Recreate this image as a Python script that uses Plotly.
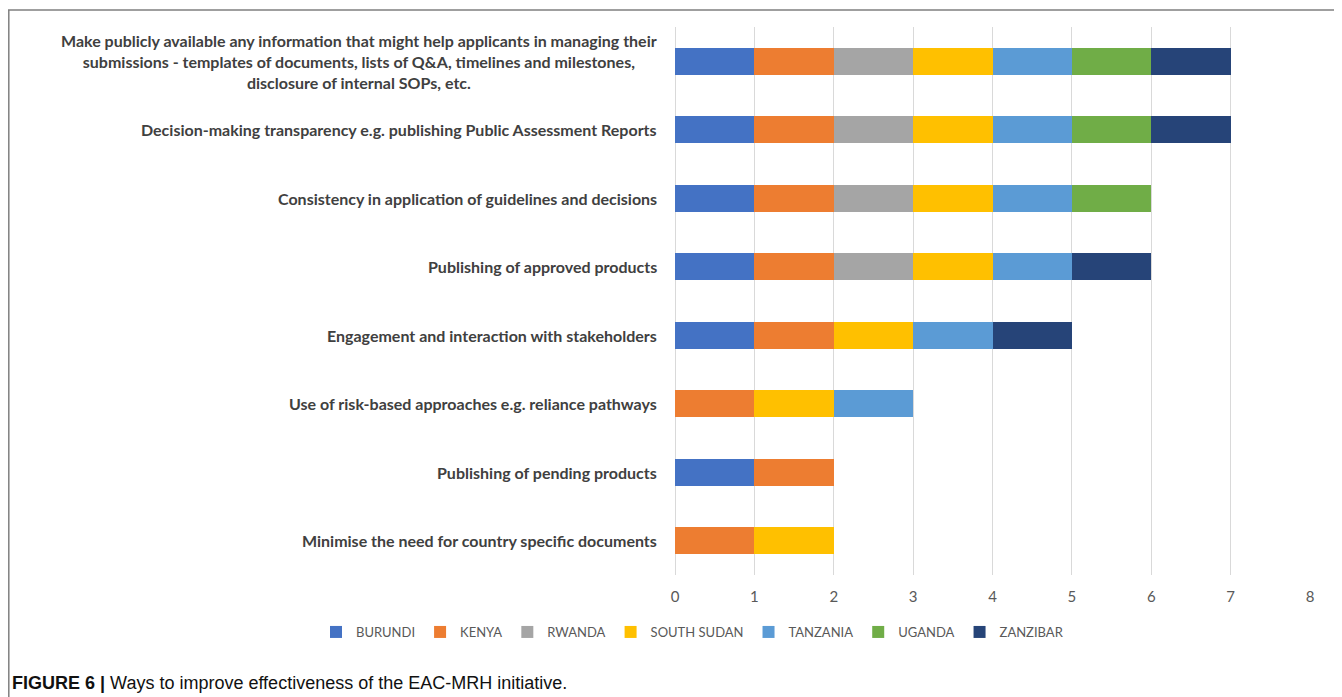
import plotly.graph_objects as go

categories = [
    "Make publicly available any information that might help applicants in managing their<br>submissions - templates of documents, lists of Q&A, timelines and milestones,<br>disclosure of internal SOPs, etc.",
    "Decision-making transparency e.g. publishing Public Assessment Reports",
    "Consistency in application of guidelines and decisions",
    "Publishing of approved products",
    "Engagement and interaction with stakeholders",
    "Use of risk-based approaches e.g. reliance pathways",
    "Publishing of pending products",
    "Minimise the need for country specific documents",
]
countries = ["BURUNDI", "KENYA", "RWANDA", "SOUTH SUDAN", "TANZANIA", "UGANDA", "ZANZIBAR"]
burundi     = [1, 1, 1, 1, 1, 0, 1, 0]
kenya       = [1, 1, 1, 1, 1, 1, 1, 1]
rwanda      = [1, 1, 1, 1, 0, 0, 0, 0]
south_sudan = [1, 1, 1, 1, 1, 1, 0, 1]
tanzania    = [1, 1, 1, 1, 1, 1, 0, 0]
uganda      = [1, 1, 1, 0, 0, 0, 0, 0]
zanzibar    = [1, 1, 0, 1, 1, 0, 0, 0]
series = [burundi, kenya, rwanda, south_sudan, tanzania, uganda, zanzibar]
colors = ["#4472C4", "#ED7D31", "#A5A5A5", "#FFC000", "#5B9BD5", "#70AD47", "#264478"]
x_ticks = [0, 1, 2, 3, 4, 5, 6, 7, 8]

ypos = list(range(len(categories)))

fig = go.Figure()
for name, vals, col in zip(countries, series, colors):
    fig.add_trace(go.Bar(
        y=ypos, x=vals, name=name, orientation="h",
        marker=dict(color=col, line=dict(width=0)),
    ))

# page has an 8px body margin; figure coordinates = page - 8
OFF = 8
W, H = 1342 - OFF, 697 - OFF
L, R, T, B = 675 - OFF, 32, 27 - OFF, 697 - 575
pw, ph = W - L - R, H - T - B


def px_x(px):
    return (px - OFF - L) / pw


def px_y(py):
    return ((H - B) - (py - OFF)) / ph


FONT = "Lato, Carlito, sans-serif"

fig.update_layout(
    width=W, height=H,
    barmode="stack", bargap=0.6,
    margin=dict(l=L, r=R, t=T, b=B),
    plot_bgcolor="white", paper_bgcolor="white",
    xaxis=dict(range=[0, 8], tickvals=x_ticks, showgrid=True, gridcolor="#D9D9D9", gridwidth=1,
               zeroline=True, zerolinecolor="#D9D9D9", zerolinewidth=1, showline=False,
               tickfont=dict(family=FONT, size=15, color="#595959"),
               ticks="", ticklabelstandoff=11),
    yaxis=dict(range=[len(categories) - 0.5, -0.5], tickvals=ypos, showticklabels=False,
               showgrid=False, zeroline=False, showline=False, ticks=""),
    legend=dict(orientation="h", x=px_x(316), xanchor="left", y=px_y(632), yanchor="middle",
                font=dict(family=FONT, size=13, color="#595959"),
                traceorder="normal", itemwidth=30),
    showlegend=True,
)

for i, c in enumerate(categories):
    fig.add_annotation(x=0, xref="paper", y=i, yref="y", xanchor="right", xshift=-16,
                       text="<b>" + c + "</b>", showarrow=False, align="center",
                       font=dict(family=FONT, size=16, color="#404040"))

# frame
fig.add_shape(type="line", xref="paper", yref="paper", x0=px_x(8), x1=px_x(1342), y0=px_y(10), y1=px_y(10),
              line=dict(color="#7F7F7F", width=1.5))
fig.add_shape(type="line", xref="paper", yref="paper", x0=px_x(8.8), x1=px_x(8.8), y0=px_y(10), y1=px_y(697),
              line=dict(color="#7F7F7F", width=1.5))

fig.add_annotation(xref="paper", yref="paper", x=px_x(10), y=px_y(683), xanchor="left", yanchor="middle",
                   text="<b>FIGURE 6 |</b> Ways to improve effectiveness of the EAC-MRH initiative.",
                   showarrow=False,
                   font=dict(family="Liberation Sans Narrow, Liberation Sans, Arial, sans-serif", size=18,
                             color="#111111"))

fig.write_html("out.html")
